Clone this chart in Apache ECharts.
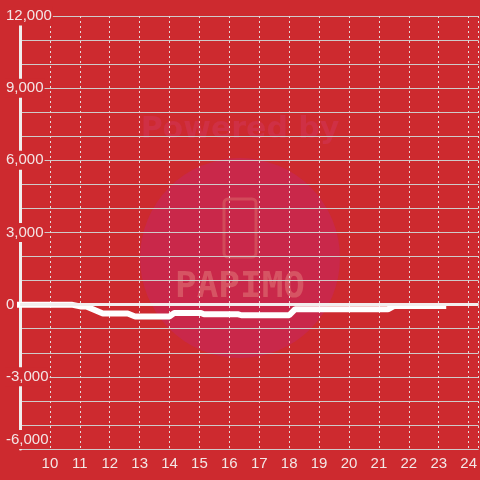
<!DOCTYPE html>
<html>
<head>
<meta charset="utf-8" />
<script src="https://cdn.jsdelivr.net/npm/echarts@6/dist/echarts.min.js"></script>
<style>
  html, body { margin: 0; padding: 0; background: #cd2a2f; }
  #chart { width: 480px; height: 480px; }
</style>
</head>
<body>
<div id="chart"></div>
<script>
// x = hour of day, y = value
const hours = [9, 10.72, 11.05, 11.22, 11.77, 12.6, 12.85, 14.0, 14.15, 15.05, 15.15, 16.3, 16.4, 18.0, 18.2, 21.3, 21.5, 23.15];
const values = [0, 0, -80, -80, -370, -370, -490, -490, -350, -350, -400, -400, -440, -440, -190, -190, -60, -60];
const yTicks = [-6000, -3000, 0, 3000, 6000, 9000, 12000];

const bg = "#cd2a2f";
const txt = "#f3e6e6";

const chart = echarts.init(document.getElementById("chart"));

const option = {
  backgroundColor: bg,
  animation: false,
  textStyle: { fontFamily: "Liberation Sans, Arial, sans-serif" },
  grid: { left: 20, right: 0, top: 16, bottom: 31, containLabel: false },
  // watermark behind the grid
  graphic: [
    {
      type: "circle",
      z: -5,
      shape: { cx: 240, cy: 258, r: 100 },
      style: { fill: "#c9284a" },
      silent: true,
    },
    {
      type: "text",
      z: -5,
      x: 240,
      y: 130,
      style: {
        text: "Powered by",
        fill: "#cf3045",
        font: "bold 30px 'DejaVu Sans', sans-serif",
        textAlign: "center",
        textVerticalAlign: "middle",
      },
      silent: true,
    },
    {
      type: "rect",
      z: -4,
      shape: { x: 224, y: 199, width: 32, height: 58, r: 4 },
      style: { fill: "none", stroke: "#d24a5a", lineWidth: 3 },
      silent: true,
    },
    {
      type: "text",
      z: -4,
      x: 240,
      y: 288,
      style: {
        text: "PAPIMO",
        fill: "#d65463",
        font: "bold 36px 'DejaVu Sans Mono', monospace",
        textAlign: "center",
        textVerticalAlign: "middle",
      },
      silent: true,
    },
  ],
  xAxis: {
    type: "value",
    min: 9,
    max: 24.333,
    interval: 1,
    axisLine: { show: false },
    axisTick: { show: false },
    axisLabel: {
      color: txt,
      fontSize: 15,
      margin: 7,
      showMinLabel: false,
      showMaxLabel: false,
    },
    splitLine: {
      show: true,
      lineStyle: { color: "#e6dada", width: 1, type: [2, 3] },
    },
  },
  yAxis: {
    type: "value",
    min: -6000,
    max: 12000,
    interval: 3000,
    axisLine: { show: true, lineStyle: { color: "#f0eeee", width: 3 } },
    axisTick: { show: false },
    axisLabel: {
      color: txt,
      fontSize: 15,
      align: "left",
      margin: 15,
      verticalAlignMinLabel: "bottom",
      backgroundColor: bg,
      padding: [2, 1, 2, 1],
      formatter: (v) => (yTicks.includes(v) ? v.toLocaleString("en-US") : ""),
    },
    splitLine: { show: true, lineStyle: { color: "#cfcaca", width: 1.2 } },
    minorTick: { show: false, splitNumber: 3 },
    minorSplitLine: { show: true, lineStyle: { color: "#cfcaca", width: 1.2 } },
  },
  series: [
    {
      type: "line",
      data: hours.map((h, i) => [h, values[i]]),
      showSymbol: false,
      clip: false,
      lineStyle: { color: "#ffffff", width: 6, cap: "square" },
      markLine: {
        silent: true,
        symbol: "none",
        label: { show: false },
        lineStyle: { color: "#f2eeee", width: 3, type: "solid" },
        data: [{ yAxis: 0 }],
      },
    },
  ],
};

chart.setOption(option);
</script>
</body>
</html>
